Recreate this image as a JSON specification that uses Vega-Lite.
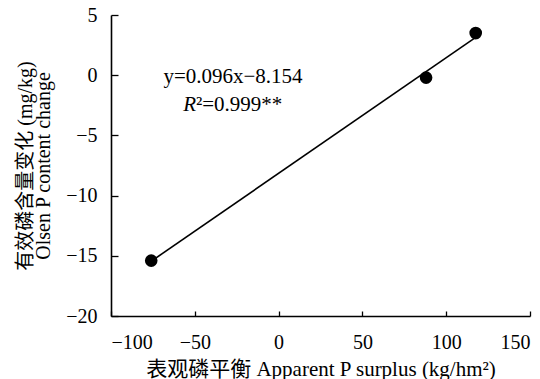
{
  "$schema": "https://vega.github.io/schema/vega-lite/v6.json",
  "width": 419,
  "height": 301,
  "autosize": {"type": "none"},
  "padding": {"left": 111, "top": 15, "right": 10, "bottom": 63},
  "background": "white",
  "config": {
    "view": {"stroke": null},
    "font": "Liberation Serif",
    "axis": {
      "grid": false,
      "domainColor": "black",
      "domainWidth": 1.6,
      "tickColor": "black",
      "tickWidth": 1.3,
      "labelColor": "black",
      "titleColor": "black",
      "labelFont": "Liberation Serif",
      "titleFont": "Liberation Serif, Noto Sans CJK SC",
      "labelFontSize": 20,
      "titleFontWeight": "normal"
    }
  },
  "datasets": {
    "pts": [
      {"x": -76, "y": -15.4},
      {"x": 88, "y": -0.2},
      {"x": 117.6, "y": 3.5}
    ],
    "fit": [
      {"x": -76, "y": -15.45},
      {"x": 117.6, "y": 3.14}
    ],
    "eq": [
      {"x": -27.2, "y": -0.15, "t": "y=0.096x\u22128.154"}
    ],
    "r1": [
      {"x": -49.3, "y": -2.5, "t": "R"}
    ],
    "r2": [
      {"x": -49.3, "y": -2.5, "t": "\u00b2=0.999**"}
    ]
  },
  "layer": [
    {
      "data": {"name": "fit"},
      "mark": {"type": "line", "color": "black", "strokeWidth": 1.6},
      "encoding": {
        "x": {
          "field": "x", "type": "quantitative",
          "scale": {"domain": [-100, 150], "nice": false, "zero": false},
          "axis": {
            "values": [-100, -50, 0, 50, 100, 150],
            "tickSize": -5,
            "labelPadding": 21,
            "title": "表观磷平衡 Apparent P surplus (kg/hm²)",
            "titleFontSize": 21,
            "titlePadding": 6,
            "format": "d"
          }
        },
        "y": {
          "field": "y", "type": "quantitative",
          "scale": {"domain": [-20, 5], "nice": false, "zero": false},
          "axis": {
            "values": [-20, -15, -10, -5, 0, 5],
            "tickSize": -7,
            "labelPadding": 21,
            "title": ["有效磷含量变化 (mg/kg)", "Olsen P content change"],
            "titleFontSize": 20,
            "titleLineHeight": 18,
            "titlePadding": 12,
            "format": "d"
          }
        }
      }
    },
    {
      "data": {"name": "pts"},
      "mark": {"type": "point", "filled": true, "color": "black", "opacity": 1, "size": 160},
      "encoding": {
        "x": {"field": "x", "type": "quantitative"},
        "y": {"field": "y", "type": "quantitative"}
      }
    },
    {
      "data": {"name": "eq"},
      "mark": {"type": "text", "fontSize": 21, "font": "Liberation Serif", "color": "black", "align": "center", "baseline": "middle"},
      "encoding": {
        "x": {"field": "x", "type": "quantitative"},
        "y": {"field": "y", "type": "quantitative"},
        "text": {"field": "t"}
      }
    },
    {
      "data": {"name": "r1"},
      "mark": {"type": "text", "fontSize": 21, "font": "Liberation Serif", "fontStyle": "italic", "color": "black", "align": "right", "baseline": "middle"},
      "encoding": {
        "x": {"field": "x", "type": "quantitative"},
        "y": {"field": "y", "type": "quantitative"},
        "text": {"field": "t"}
      }
    },
    {
      "data": {"name": "r2"},
      "mark": {"type": "text", "fontSize": 21, "font": "Liberation Serif", "color": "black", "align": "left", "baseline": "middle"},
      "encoding": {
        "x": {"field": "x", "type": "quantitative"},
        "y": {"field": "y", "type": "quantitative"},
        "text": {"field": "t"}
      }
    }
  ]
}
